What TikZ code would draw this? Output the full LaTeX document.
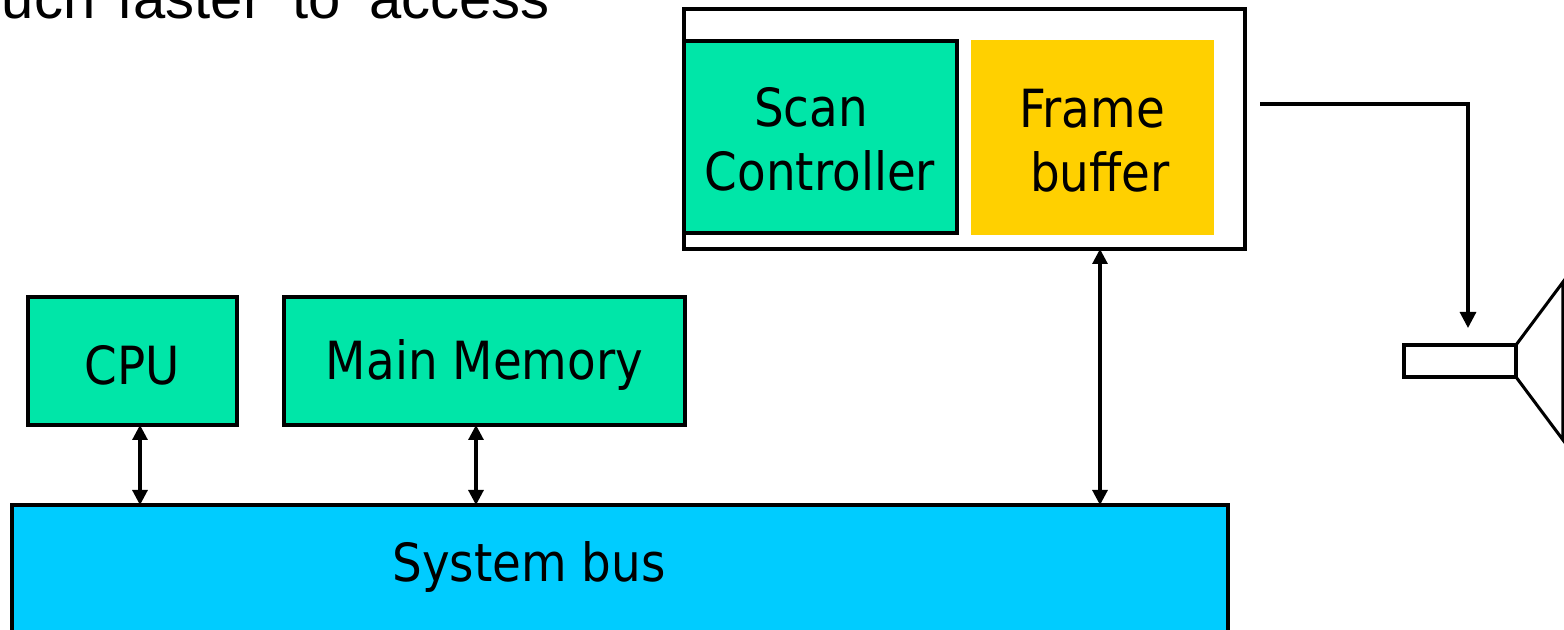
\documentclass[tikz,border=0pt]{standalone}
\usepackage{fontspec}
\setmainfont[FakeStretch=0.89]{DejaVu Sans}
\newfontfamily\headfont{Liberation Sans}
\usetikzlibrary{arrows.meta}
\definecolor{boxgreen}{HTML}{00E6A8}
\definecolor{boxyellow}{HTML}{FFD000}
\definecolor{boxblue}{HTML}{00CCFF}
\tikzset{
  unit/.style={draw,line width=1.52pt,inner sep=0pt,outer sep=0pt,align=center,font=\fontsize{26.3}{32}\selectfont},
  arrowline/.style={line width=1.52pt,-{Triangle[width=8pt,length=8pt]}},
  busline/.style={line width=1.52pt,{Triangle[width=7.5pt,length=7.5pt]}-{Triangle[width=7.5pt,length=7.5pt]}},
}

\begin{document}
\begin{tikzpicture}[x=0.5pt,y=-0.5pt]
\useasboundingbox (0,0) rectangle (1564,630);
% top line of text
\node[anchor=base east,inner sep=0pt,font=\headfont\fontsize{29}{32}\selectfont] (headline) at (550,19) {uch\hspace*{3pt} faster\hspace*{7pt} to\hspace*{6pt} access};
% processor and memory
\node[unit,fill=boxgreen,minimum width=104.5pt,minimum height=64pt] (cpu) at (132.5,361) {};
\node[unit,draw=none] (cpulabel) at (132.5,365) {CPU};
\node[unit,fill=boxgreen,minimum width=200.5pt,minimum height=64pt] (memory) at (484.5,361) {};
\node[unit,draw=none] (memorylabel) at (484.5,365) {Main Memory};
% bus, its lower edge is cut off by the page
\node[unit,fill=boxblue,minimum width=608pt,minimum height=120pt] (bus) at (620,625) {};
\node[unit,draw=none] (buslabel) at (529,567) {System bus};
% display controller
\node[unit,minimum width=280.5pt,minimum height=120pt] (display) at (964.5,129) {};
\node[unit,fill=boxgreen,minimum width=136.5pt,minimum height=96pt] (scan) at (820.5,137) {};
\node[unit,draw=none] (scanlabel) at (820,139) {Scan\hspace*{9pt}\\Controller};
\node[unit,draw=none,fill=boxyellow,minimum width=121.5pt,minimum height=97.5pt] (frame) at (1092.5,137.5) {};
\node[unit,draw=none] (framelabel) at (1100,141) {Frame\hspace*{8pt}\\buffer};
% monitor
\node[unit,minimum width=56pt,minimum height=16pt] (neck) at (1460,361) {};
\coordinate (coneup) at (1563,282);
\coordinate (conedown) at (1563,440);
\draw[line width=1.52pt] (neck.north east) -- (coneup) -- (conedown) -- (neck.south east);
% ports
\coordinate (cpuport) at (140,505);
\coordinate (memoryport) at (476,505);
\coordinate (frameport) at (1100,505);
\coordinate (signalstart) at (1260,104);
\coordinate (signalbend) at (1468,104);
\coordinate (signalend) at (1468,328);
% connections
\draw[busline] (cpuport |- cpu.south) -- (cpuport);
\draw[busline] (memoryport |- memory.south) -- (memoryport);
\draw[busline] (frameport |- display.south) -- (frameport);
\draw[arrowline] (signalstart) -- (signalbend) -- (signalend);
\end{tikzpicture}
\end{document}
